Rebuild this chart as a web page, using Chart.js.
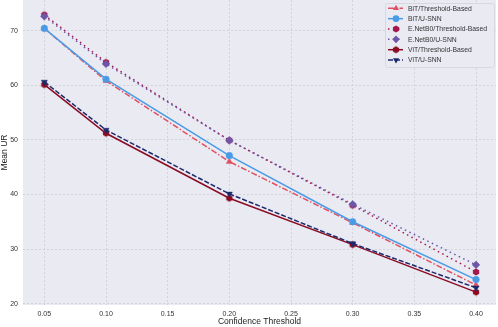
<!DOCTYPE html>
<html>
<head>
<meta charset="utf-8">
<script src="https://cdn.jsdelivr.net/npm/chart.js@4"></script>
<style>
  html, body { margin: 0; padding: 0; background: #fff; }
  #wrap { position: relative; width: 498px; height: 327px; }
</style>
</head>
<body>
<div id="wrap"><canvas id="urChart" width="498" height="327"></canvas></div>
<script>
// values
const thresholds = [0.05, 0.10, 0.20, 0.30, 0.40];
const xTicks = [0.05, 0.10, 0.15, 0.20, 0.25, 0.30, 0.35, 0.40];
const yTicks = [20, 30, 40, 50, 60, 70];

const bitThreshold = [70.4, 60.8, 46.0, 34.8, 23.4];
const bitUSNN = [70.4, 61.1, 47.1, 35.0, 24.4];
const enetThreshold = [72.9, 64.2, 49.9, 38.0, 25.8];
const enetUSNN = [72.6, 63.9, 49.9, 38.2, 27.1];
const vitThreshold = [60.1, 51.2, 39.3, 30.8, 22.1];
const vitUSNN = [60.6, 51.8, 40.1, 31.0, 22.9];

function hexagon(color, r) {
    const c = document.createElement("canvas");
    const s = Math.ceil(r * 2 + 2);
    c.width = s; c.height = s;
    const g = c.getContext("2d");
    g.fillStyle = color;
    g.beginPath();
    for (let i = 0; i < 6; i++) {
        const a = Math.PI / 6 + i * Math.PI / 3;
        const px = s / 2 + r * Math.cos(a), py = s / 2 + r * Math.sin(a);
        i ? g.lineTo(px, py) : g.moveTo(px, py);
    }
    g.closePath();
    g.fill();
    return c;
}

const series = [
    { label: "BiT/Threshold-Based", data: bitThreshold, color: "#E2505F", dash: [6, 2, 1.5, 2], style: "triangle", r: 3.5 },
    { label: "BiT/U-SNN", data: bitUSNN, color: "#4A9BE6", dash: [], style: "circle", r: 3.3 },
    { label: "E.NetB0/Threshold-Based", data: enetThreshold, color: "#A3174C", dash: [1.5, 3.5], style: hexagon("#A3174C", 3.6), r: 3.5 },
    { label: "E.NetB0/U-SNN", data: enetUSNN, color: "#6D55A8", dash: [1.5, 3.5], style: "rectRot", r: 3.8 },
    { label: "ViT/Threshold-Based", data: vitThreshold, color: "#8A0B22", dash: [], style: hexagon("#8A0B22", 3.6), r: 3.5 },
    { label: "ViT/U-SNN", data: vitUSNN, color: "#1C2A6C", dash: [5, 2], style: "triangle", rot: 180, r: 3.5 }
];

const datasets = series.map((s, i) => ({
    label: s.label,
    data: thresholds.map((x, j) => ({ x: x, y: s.data[j] })),
    borderColor: s.color,
    backgroundColor: s.color,
    borderWidth: 1.5,
    borderDash: s.dash,
    pointStyle: s.style,
    pointRotation: s.rot || 0,
    pointRadius: s.r,
    pointBorderWidth: 0.5,
    tension: 0,
    order: series.length - i
}));

const plotBg = {
    id: "plotBg",
    beforeDraw(chart) {
        const { ctx, chartArea: a } = chart;
        ctx.save();
        ctx.fillStyle = "#EAEAF2";
        ctx.fillRect(a.left, a.top, a.right - a.left, a.bottom - a.top);
        ctx.restore();
    }
};

const boxLegend = {
    id: "boxLegend",
    afterDraw(chart) {
        const ctx = chart.ctx;
        const x0 = 385, y0 = 3, w = 109, h = 64;
        ctx.save();
        ctx.fillStyle = "rgba(234,234,242,0.95)";
        ctx.strokeStyle = "#d8d8e0";
        ctx.lineWidth = 1;
        ctx.beginPath();
        ctx.roundRect(x0 + 0.5, y0 + 0.5, w, h, 2);
        ctx.fill();
        ctx.stroke();
        ctx.font = "6.8px 'Liberation Sans', Arial, sans-serif";
        ctx.textBaseline = "middle";
        series.forEach((s, i) => {
            const y = y0 + 5.3 + i * 10.35;
            ctx.strokeStyle = s.color;
            ctx.lineWidth = 1.5;
            ctx.setLineDash(s.dash);
            ctx.beginPath();
            ctx.moveTo(x0 + 3, y);
            ctx.lineTo(x0 + 18, y);
            ctx.stroke();
            ctx.setLineDash([]);
            ctx.fillStyle = s.color;
            Chart.helpers.drawPoint(ctx, { pointStyle: s.style, rotation: s.rot || 0, radius: s.r, borderWidth: 0 }, x0 + 11, y);
            ctx.fillStyle = "#333";
            ctx.fillText(s.label, x0 + 23, y + 0.5);
        });
        ctx.restore();
    }
};

const ctx = document.getElementById("urChart").getContext("2d");

new Chart(ctx, {
    type: "line",
    data: { datasets: datasets },
    options: {
        responsive: false,
        animation: false,
        layout: { padding: { top: 0, left: 0, bottom: 0, right: 2 }, autoPadding: false },
        plugins: { legend: { display: false }, tooltip: { enabled: false } },
        scales: {
            x: {
                type: "linear",
                min: 0.0327,
                max: 0.4162,
                afterBuildTicks: ax => { ax.ticks = xTicks.map(v => ({ value: v })); },
                afterFit: ax => { ax.height = 22; ax.paddingLeft = 0; ax.paddingRight = 0; },
                grid: { color: "#c9c9d2", lineWidth: 0.7, drawTicks: false },
                border: { display: false, dash: [2, 2] },
                ticks: {
                    padding: 5,
                    maxRotation: 0,
                    color: "#333",
                    font: { size: 7, family: "'Liberation Sans', Arial, sans-serif" },
                    callback: v => v.toFixed(2)
                },
                title: {
                    display: true,
                    text: "Confidence Threshold",
                    color: "#222",
                    padding: { top: 1, bottom: 0 },
                    font: { size: 8.5, family: "'Liberation Sans', Arial, sans-serif" }
                }
            },
            y: {
                min: 19.75,
                max: 75.6,
                afterBuildTicks: ax => { ax.ticks = yTicks.map(v => ({ value: v })); },
                afterFit: ax => { ax.width = 23; ax.paddingTop = 0; ax.paddingBottom = 0; },
                grid: { color: "#c9c9d2", lineWidth: 0.7, drawTicks: false },
                border: { display: false, dash: [2, 2] },
                ticks: {
                    padding: 5,
                    color: "#333",
                    font: { size: 7, family: "'Liberation Sans', Arial, sans-serif" }
                },
                title: {
                    display: true,
                    text: "Mean UR",
                    color: "#222",
                    padding: { top: 0, bottom: 0 },
                    font: { size: 8.5, family: "'Liberation Sans', Arial, sans-serif" }
                }
            }
        }
    },
    plugins: [plotBg, boxLegend]
});
</script>
</body>
</html>
